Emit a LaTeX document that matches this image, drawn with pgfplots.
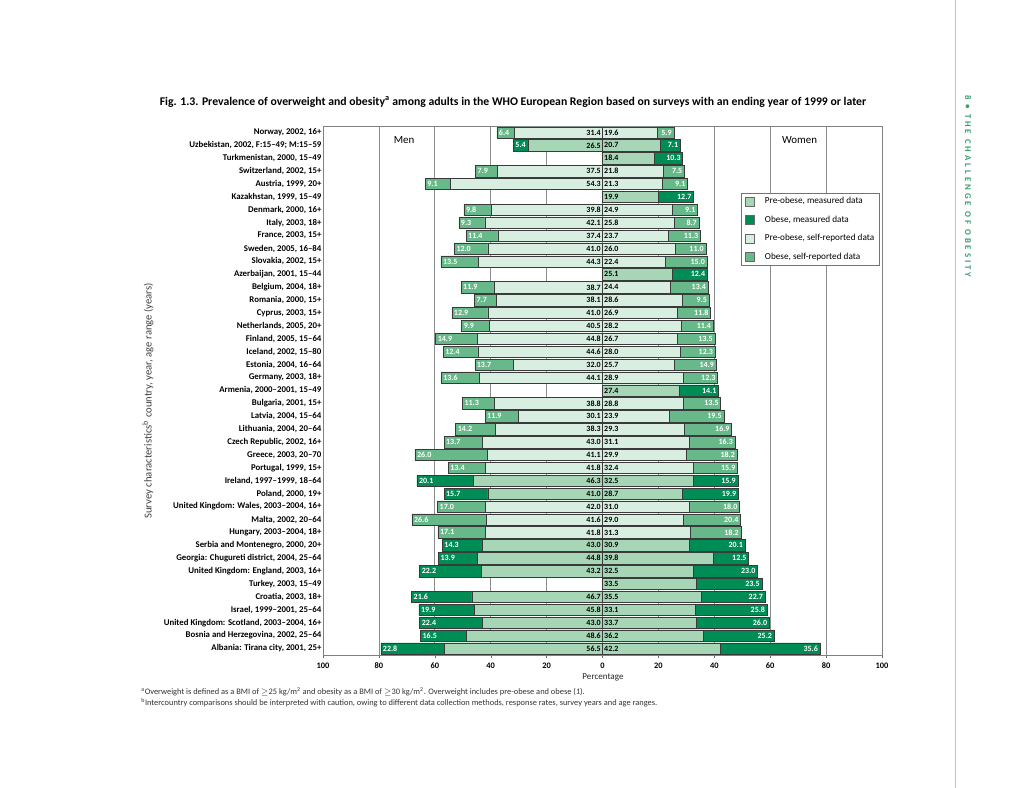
\documentclass[border=0pt]{standalone}
\usepackage{pgfplots}
\pgfplotsset{compat=1.18}
\usepackage{pgfplotstable}
\usepackage{fontspec}
\setmainfont{Carlito}
\newcommand\fs[1]{\fontsize{#1}{#1}\selectfont}
\definecolor{preM}{HTML}{A6D6B6}
\definecolor{obM}{HTML}{008C55}
\definecolor{preS}{HTML}{D8EEE0}
\definecolor{obS}{HTML}{68B98A}
\definecolor{edge}{HTML}{3A3A3A}
\definecolor{rtgreen}{HTML}{3A9E6E}

\pgfplotstableread{
row pre ob
0 31.4 6.4
3 37.5 7.9
4 54.3 9.1
6 39.8 9.8
7 42.1 9.3
8 37.4 11.4
9 41.0 12.0
10 44.3 13.5
12 38.7 11.9
13 38.1 7.7
14 41.0 12.9
15 40.5 9.9
16 44.8 14.9
17 44.6 12.4
18 32.0 13.7
19 44.1 13.6
21 38.8 11.3
22 30.1 11.9
23 38.3 14.2
24 43.0 13.7
25 41.1 26.0
26 41.8 13.4
29 42.0 17.0
30 41.6 26.6
31 41.8 17.1
}\menS

\pgfplotstableread{
row pre ob
1 26.5 5.4
27 46.3 20.1
28 41.0 15.7
32 43.0 14.3
33 44.8 13.9
34 43.2 22.2
36 46.7 21.6
37 45.8 19.9
38 43.0 22.4
39 48.6 16.5
40 56.5 22.8
}\menM

\pgfplotstableread{
row pre ob
0 19.6 5.9
3 21.8 7.5
4 21.3 9.1
6 24.9 9.1
7 25.8 8.7
8 23.7 11.3
9 26.0 11.0
10 22.4 15.0
12 24.4 13.4
13 28.6 9.5
14 26.9 11.8
15 28.2 11.4
16 26.7 13.5
17 28.0 12.3
18 25.7 14.9
19 28.9 12.3
21 28.8 13.5
22 23.9 19.5
23 29.3 16.9
24 31.1 16.3
25 29.9 18.2
26 32.4 15.9
29 31.0 18.0
30 29.0 20.4
31 31.3 18.2
}\womenS

\pgfplotstableread{
row pre ob
1 20.7 7.1
2 18.4 10.3
5 19.9 12.7
11 25.1 12.4
20 27.4 14.1
27 32.5 15.9
28 28.7 19.9
32 30.9 20.1
33 39.8 12.5
34 32.5 23.0
35 33.5 23.5
36 35.5 22.7
37 33.1 25.8
38 33.7 26.0
39 36.2 25.2
40 42.2 35.6
}\womenM

\pgfplotsset{
  barbase/.style={xbar, bar shift=0pt, bar width=8.5pt, draw=edge, line width=0.4pt, forget plot},
  oblabel/.style={nodes near coords={\pgfplotspointmeta}, point meta=explicit symbolic,
    every node near coord/.append style={anchor=#1, text=white, font=\fs{6}\bfseries, inner sep=1.4pt}},
  prelabel/.style={draw=none, mark=none, forget plot, nodes near coords={\pgfplotspointmeta}, point meta=explicit symbolic,
    every node near coord/.append style={anchor=#1, text=black, font=\fs{6}\bfseries, inner sep=1.1pt}},
}

\begin{document}
\begin{tikzpicture}
\useasboundingbox (0,0) rectangle (768pt,591pt);
\fill[white] (0,0) rectangle (768pt,591pt);

\begin{axis}[
  at={(242.25pt,99.75pt)}, anchor=south west,
  scale only axis, width=419.25pt, height=396.75pt,
  xmin=-100, xmax=100, ymin=-0.5, ymax=40.5,
  y dir=reverse,
  axis line style={draw=black!50, line width=0.6pt},
  xtick={-100,-80,-60,-40,-20,0,20,40,60,80,100},
  xticklabels={100,80,60,40,20,0,20,40,60,80,100},
  xticklabel style={font=\fs{6.3}\bfseries},
  xtick pos=bottom, xtick align=outside, major tick length=2.5pt,
  xtick style={draw=black!60},
  xmajorgrids, grid style={draw=black!45, line width=0.5pt},
  ytick={0,...,40},
  ytick style={draw=none},
  yticklabel style={font=\fs{6.6}\bfseries, inner sep=1pt},
  yticklabels={
    {Norway, 2002, 16+},
    {Uzbekistan, 2002, F:15–49; M:15–59},
    {Turkmenistan, 2000, 15–49},
    {Switzerland, 2002, 15+},
    {Austria, 1999, 20+},
    {Kazakhstan, 1999, 15–49},
    {Denmark, 2000, 16+},
    {Italy, 2003, 18+},
    {France, 2003, 15+},
    {Sweden, 2005, 16–84},
    {Slovakia, 2002, 15+},
    {Azerbaijan, 2001, 15–44},
    {Belgium, 2004, 18+},
    {Romania, 2000, 15+},
    {Cyprus, 2003, 15+},
    {Netherlands, 2005, 20+},
    {Finland, 2005, 15–64},
    {Iceland, 2002, 15–80},
    {Estonia, 2004, 16–64},
    {Germany, 2003, 18+},
    {Armenia, 2000–2001, 15–49},
    {Bulgaria, 2001, 15+},
    {Latvia, 2004, 15–64},
    {Lithuania, 2004, 20–64},
    {Czech Republic, 2002, 16+},
    {Greece, 2003, 20–70},
    {Portugal, 1999, 15+},
    {Ireland, 1997–1999, 18–64},
    {Poland, 2000, 19+},
    {United Kingdom: Wales, 2003–2004, 16+},
    {Malta, 2002, 20–64},
    {Hungary, 2003–2004, 18+},
    {Serbia and Montenegro, 2000, 20+},
    {Georgia: Chugureti district, 2004, 25–64},
    {United Kingdom: England, 2003, 16+},
    {Turkey, 2003, 15–49},
    {Croatia, 2003, 18+},
    {Israel, 1999–2001, 25–64},
    {United Kingdom: Scotland, 2003–2004, 16+},
    {Bosnia and Herzegovina, 2002, 25–64},
    {Albania: Tirana city, 2001, 25+}},
  legend style={at={(rel axis cs:0.7478,0.8733)}, anchor=north west,
    draw=black!55, line width=0.5pt, fill=white,
    font=\fs{6.9}, row sep=5.6pt, inner xsep=2.5pt, inner ysep=2pt,
    nodes={inner sep=1pt}},
  legend cell align=left,
  legend image code/.code={\draw[#1, draw=black!60, line width=0.4pt] (0pt,-3.3pt) rectangle (6.8pt,3.3pt); \path[draw=none, fill=none] (0pt,0pt) -- (14pt,0pt);},
  clip=false,
]
% legend entries
\addlegendimage{fill=preM}
\addlegendentry{Pre-obese, measured data}
\addlegendimage{fill=obM}
\addlegendentry{Obese, measured data}
\addlegendimage{fill=preS}
\addlegendentry{Pre-obese, self-reported data}
\addlegendimage{fill=obS}
\addlegendentry{Obese, self-reported data}

% Men, self-reported
\addplot[barbase, fill=obS, oblabel=west] table[x expr={-(\thisrow{pre}+\thisrow{ob})}, y=row, meta=ob] {\menS};
\addplot[barbase, fill=preS] table[x expr={-\thisrow{pre}}, y=row] {\menS};
% Men, measured
\addplot[barbase, fill=obM, oblabel=west] table[x expr={-(\thisrow{pre}+\thisrow{ob})}, y=row, meta=ob] {\menM};
\addplot[barbase, fill=preM] table[x expr={-\thisrow{pre}}, y=row] {\menM};
% Women, self-reported
\addplot[barbase, fill=obS, oblabel=east] table[x expr={\thisrow{pre}+\thisrow{ob}}, y=row, meta=ob] {\womenS};
\addplot[barbase, fill=preS] table[x=pre, y=row] {\womenS};
% Women, measured
\addplot[barbase, fill=obM, oblabel=east] table[x expr={\thisrow{pre}+\thisrow{ob}}, y=row, meta=ob] {\womenM};
\addplot[barbase, fill=preM] table[x=pre, y=row] {\womenM};

% pre-obese labels at zero
\addplot[prelabel=east] table[x expr=0, y=row, meta=pre] {\menS};
\addplot[prelabel=east] table[x expr=0, y=row, meta=pre] {\menM};
\addplot[prelabel=west] table[x expr=0, y=row, meta=pre] {\womenS};
\addplot[prelabel=west] table[x expr=0, y=row, meta=pre] {\womenM};

\node[font=\fs{8.2}] at (axis cs:-71,0.6) {Men};
\node[font=\fs{8.2}] at (axis cs:70.5,0.6) {Women};
\end{axis}

% title
\node[font=\fs{8.8}\bfseries, anchor=center] at (384.75pt,514.5pt)
  {Fig. 1.3. Prevalence of overweight and obesity\textsuperscript{a} among adults in the WHO European Region based on surveys with an ending year of 1999 or later};
% y label
\node[font=\fs{8}, text=black!75, rotate=90, anchor=center] at (111pt,290.25pt)
  {Survey characteristics\textsuperscript{b} country, year, age range (years)};
% x label
\node[font=\fs{6.8}, text=black!85] at (452.25pt,83.25pt) {Percentage};
% footnotes
\node[font=\fs{6.3}, anchor=west, inner sep=0pt, text=black!80] at (105.75pt,72pt)
  {\textsuperscript{a}Overweight is defined as a BMI of $\geq$25 kg/m\textsuperscript{2} and obesity as a BMI of $\geq$30 kg/m\textsuperscript{2}. Overweight includes pre-obese and obese (\textit{1}).};
\node[font=\fs{6.3}, anchor=west, inner sep=0pt, text=black!80] at (105.75pt,63.75pt)
  {\textsuperscript{b}Intercountry comparisons should be interpreted with caution, owing to different data collection methods, response rates, survey years and age ranges.};
% right margin
\draw[draw=rtgreen!45, line width=0.6pt] (716.25pt,0pt) -- (716.25pt,591pt);
\node[rotate=-90, anchor=west, inner sep=0pt, text=rtgreen, font=\fs{6.6}\bfseries\addfontfeatures{LetterSpace=34}] at (726pt,519.75pt)
  {8 \textbullet{} THE CHALLENGE OF OBESITY};
\end{tikzpicture}
\end{document}
